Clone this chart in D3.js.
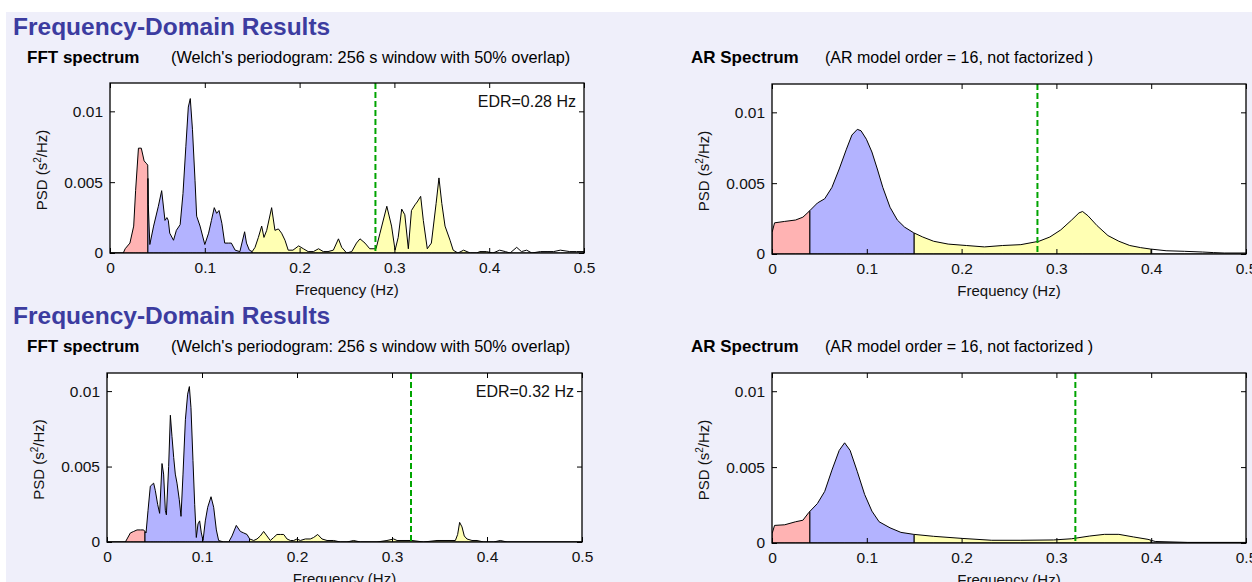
<!DOCTYPE html>
<html>
<head>
<meta charset="utf-8">
<script src="https://cdn.jsdelivr.net/npm/d3@7"></script>
<style>
  html, body { margin: 0; padding: 0; background: #fff; }
  svg { display: block; font-family: "Liberation Sans", Arial, sans-serif; }
</style>
</head>
<body>
<div id="chart"></div>
<script>
// band limits (Hz) and colours: VLF, LF, HF, rest
var bandEdges = [0, 0.04, 0.15, 0.4, 0.5];
var bandColors = ["#ffb3b3", "#b3b3ff", "#ffffb3", "#ffffff"];
var xTicks = [0, 0.1, 0.2, 0.3, 0.4, 0.5];
var yTicks = [0, 0.005, 0.01];
var edrValues = [0.28, 0.32];

// first analysis - FFT (Welch)
var fft1Freq = [0, 0.014, 0.016, 0.021, 0.025, 0.027, 0.030, 0.033, 0.036, 0.0387, 0.0398, 0.0404, 0.042, 0.046, 0.051, 0.0545,
    0.058, 0.060, 0.0615, 0.063, 0.067, 0.070, 0.074, 0.077, 0.080, 0.0826, 0.0847, 0.087, 0.0897, 0.0914, 0.095, 0.100,
    0.104, 0.107, 0.110, 0.1125, 0.115, 0.118, 0.121, 0.125, 0.128, 0.132, 0.137, 0.142, 0.144, 0.147, 0.150, 0.153,
    0.1565, 0.160, 0.1624, 0.1653, 0.1705, 0.174, 0.1776, 0.181, 0.1846, 0.188, 0.193, 0.199, 0.204, 0.209, 0.2145,
    0.220, 0.225, 0.230, 0.2356, 0.241, 0.2444, 0.2496, 0.255, 0.260, 0.2637, 0.269, 0.274, 0.2806, 0.2848, 0.292,
    0.297, 0.3007, 0.304, 0.3077, 0.311, 0.3147, 0.318, 0.3217, 0.324, 0.3277, 0.3305, 0.3347, 0.339, 0.344, 0.347,
    0.350, 0.3534, 0.3587, 0.362, 0.367, 0.373, 0.380, 0.387, 0.390, 0.397, 0.404, 0.411, 0.417, 0.422, 0.429, 0.434,
    0.4395, 0.445, 0.454, 0.461, 0.468, 0.475, 0.485, 0.492, 0.5];
var fft1Psd = [0, 0, 0.0003, 0.0007, 0.0019, 0.0044, 0.0074, 0.0074, 0.0065, 0.0063, 0.0062, 0.0034, 0.0006, 0.0019, 0.0033, 0.0044,
    0.0023, 0.0025, 0.0023, 0.0014, 0.0009, 0.0016, 0.0020, 0.0042, 0.0075, 0.0103, 0.0109, 0.0087, 0.0051, 0.0026, 0.0019, 0.0006,
    0.0014, 0.0023, 0.0032, 0.0028, 0.0030, 0.0021, 0.0007, 0.0007, 0.0007, 0.0002, 0.0001, 0.0015, 0.0007, 0.0002, 0.0001, 0.0004,
    0.0011, 0.0019, 0.0011, 0.0016, 0.0032, 0.0016, 0.0017, 0.0014, 0.0009, 0.0002, 0.0002, 0.0005, 0.0003, 0.0001, 0.0001,
    0.0003, 0.0001, 0.0001, 0.0002, 0.0010, 0.0004, 0.0000, 0.0001, 0.0007, 0.0010, 0.0007, 0.0003, 0.0003, 0.0014, 0.0033,
    0.0019, 0.0002, 0.0011, 0.0031, 0.0027, 0.0003, 0.0030, 0.0034, 0.0036, 0.0040, 0.0023, 0.0003, 0.0007, 0.0035, 0.0053,
    0.0035, 0.0019, 0.0009, 0.0002, 0.0000, 0.0002, 0.0000, 0.0000, 0.0001, 0.0001, 0.0000, 0.0002, 0.0001, 0.0000, 0.0004, 0.0001,
    0.0002, 0.0000, 0.0001, 0.0001, 0.0001, 0.0002, 0.0001, 0.0001, 0.0001];

// first analysis - AR model
var ar1Freq = [0, 0.0027, 0.0134, 0.0249, 0.0326, 0.039, 0.0479, 0.0556, 0.0632, 0.0709, 0.0785, 0.0843, 0.090, 0.0939, 0.0996,
    0.1054, 0.1111, 0.1169, 0.1245, 0.1322, 0.1398, 0.1494, 0.159, 0.1705, 0.1858, 0.205, 0.2241, 0.2433, 0.2625, 0.2816,
    0.2931, 0.3046, 0.3161, 0.3238, 0.3276, 0.3333, 0.3429, 0.3544, 0.3659, 0.3774, 0.3889, 0.3992, 0.4157, 0.4349, 0.454,
    0.4655, 0.477, 0.5];
var ar1Psd = [0.0015, 0.0022, 0.0023, 0.0024, 0.0026, 0.0030, 0.0036, 0.0039, 0.0047, 0.0060, 0.0074, 0.0084, 0.0088, 0.0087, 0.0081,
    0.0072, 0.0060, 0.0047, 0.0033, 0.0024, 0.0019, 0.0015, 0.0012, 0.0009, 0.0007, 0.0006, 0.0005, 0.0006, 0.00066, 0.0009,
    0.0012, 0.0017, 0.0024, 0.0029, 0.0030, 0.0027, 0.0020, 0.0013, 0.0009, 0.0006, 0.00045, 0.00035, 0.00023, 0.00019, 0.00014,
    0.0001, 0.00007, 0.00007];

// second analysis - FFT (Welch)
var fft2Freq = [0, 0.0193, 0.0211, 0.0246, 0.0281, 0.0316, 0.0351, 0.0386, 0.0411, 0.0432, 0.0456, 0.0491, 0.0509, 0.0533, 0.0554,
    0.0579, 0.0596, 0.0614, 0.0625, 0.0649, 0.0667, 0.0684, 0.0702, 0.0719, 0.0737, 0.0761, 0.0779, 0.080, 0.0825, 0.0849,
    0.0867, 0.0884, 0.0905, 0.0923, 0.094, 0.0958, 0.0975, 0.0993, 0.1011, 0.1035, 0.106, 0.1095, 0.1123, 0.1151, 0.1175,
    0.1228, 0.1281, 0.1316, 0.1361, 0.1404, 0.1439, 0.1474, 0.1502, 0.1544, 0.1579, 0.1614, 0.1649, 0.1684, 0.1719, 0.1754,
    0.1789, 0.1825, 0.186, 0.1895, 0.193, 0.1965, 0.200, 0.2035, 0.2088, 0.214, 0.2175, 0.2218, 0.2263, 0.2316, 0.2386,
    0.2456, 0.2526, 0.2596, 0.2667, 0.2737, 0.2842, 0.2947, 0.3018, 0.3053, 0.3211, 0.3333, 0.3474, 0.3579, 0.3667, 0.3691,
    0.3712, 0.3737, 0.3761, 0.3789, 0.3842, 0.3895, 0.3965, 0.407, 0.414, 0.4211, 0.5];
var fft2Psd = [0, 0, 0.0002, 0.0006, 0.0007, 0.0008, 0.0008, 0.0008, 0.0006, 0.0021, 0.0037, 0.0039, 0.0034, 0.0025, 0.0019,
    0.0052, 0.0045, 0.0021, 0.0018, 0.0050, 0.0084, 0.0070, 0.0056, 0.0045, 0.0039, 0.0028, 0.0017, 0.0045, 0.0081, 0.0098,
    0.0103, 0.0089, 0.0054, 0.0025, 0.0003, 0.0012, 0.0014, 0.0006, 0.0001, 0.0014, 0.0023, 0.0030, 0.0023, 0.0008, 0.0001,
    0.0000, 0.0000, 0.0004, 0.0011, 0.0007, 0.0006, 0.0005, 0.0002, 0.0001, 0.0002, 0.0004, 0.0007, 0.0004, 0.0001, 0.0003,
    0.0005, 0.0005, 0.0005, 0.0002, 0.0001, 0.0001, 0.0002, 0.0001, 0.0002, 0.0002, 0.0003, 0.0005, 0.0002, 0.0001, 0.0001,
    0.0000, 0.0000, 0.0001, 0.0000, 0.0000, 0.0000, 0.0001, 0.0002, 0.0001, 0.0001, 0.0000, 0.0001, 0.0001, 0.0001, 0.0005,
    0.0013, 0.0010, 0.0004, 0.0002, 0.0001, 0.0001, 0.0000, 0.0000, 0.0001, 0.0000, 0.0000];

// second analysis - AR model
var ar2Freq = [0, 0.0027, 0.0134, 0.0249, 0.0326, 0.0387, 0.0479, 0.0556, 0.0632, 0.0709, 0.0766, 0.0824, 0.090, 0.0977, 0.1054,
    0.113, 0.1245, 0.136, 0.1494, 0.1705, 0.2011, 0.2318, 0.2625, 0.2969, 0.3161, 0.3352, 0.3506, 0.3659, 0.3812, 0.3966,
    0.4042, 0.4387, 0.5];
var ar2Psd = [0.0006, 0.00116, 0.0012, 0.0014, 0.0015, 0.0020, 0.0026, 0.0034, 0.0048, 0.0061, 0.0066, 0.0061, 0.0047, 0.0032, 0.0021,
    0.0014, 0.0010, 0.0007, 0.00057, 0.00044, 0.0003, 0.00018, 0.00018, 0.0002, 0.00028, 0.00046, 0.00057, 0.00057, 0.0004, 0.00024,
    0.0001, 0.00004, 0.00004];

var width = 1252, height = 582;
var sectionOffset = 289;

var svg = d3.select("#chart").append("svg").attr("width", width).attr("height", height);

// page background
svg.append("rect").attr("x", 6).attr("y", 12).attr("width", width - 6).attr("height", height - 12).attr("fill", "#efeffa");

// headers of both sections
[0, 1].forEach(function (s) {
    var dy = s * sectionOffset;
    svg.append("text").attr("x", 13).attr("y", 35 + dy).attr("font-size", 24.5).attr("font-weight", "bold")
        .attr("fill", "#3c3ca0").text("Frequency-Domain Results");
    svg.append("text").attr("x", 27).attr("y", 63 + dy).attr("font-size", 17).attr("font-weight", "bold").text("FFT spectrum");
    svg.append("text").attr("x", 171).attr("y", 63 + dy).attr("font-size", 16.3).text("(Welch's periodogram: 256 s window with 50% overlap)");
    svg.append("text").attr("x", 691).attr("y", 63 + dy).attr("font-size", 17).attr("font-weight", "bold").text("AR Spectrum");
    svg.append("text").attr("x", 825).attr("y", 63 + dy).attr("font-size", 16).text("(AR model order = 16, not factorized )");
});

var panels = [
    { freq: fft1Freq, psd: fft1Psd, left: 110, right: 584, top: 83, bottom: 253, yMax: 0.012, edr: edrValues[0], label: true },
    { freq: ar1Freq, psd: ar1Psd, left: 772, right: 1246, top: 84, bottom: 254, yMax: 0.012, edr: edrValues[0], label: false },
    { freq: fft2Freq, psd: fft2Psd, left: 107, right: 582, top: 373, bottom: 542, yMax: 0.0112, edr: edrValues[1], label: true },
    { freq: ar2Freq, psd: ar2Psd, left: 772, right: 1246, top: 373, bottom: 543, yMax: 0.0112, edr: edrValues[1], label: false }
];

panels.forEach(function (p, i) {
    drawPanel(p, i);
});

function valueAt(freq, psd, f) {
    var j = d3.bisectLeft(freq, f);
    if (j <= 0) return psd[0];
    if (j >= freq.length) return psd[psd.length - 1];
    var t = (f - freq[j - 1]) / (freq[j] - freq[j - 1]);
    return psd[j - 1] + t * (psd[j] - psd[j - 1]);
}

function drawPanel(p, idx) {
    var x = d3.scaleLinear().domain([0, 0.5]).range([p.left, p.right]);
    var y = d3.scaleLinear().domain([0, p.yMax]).range([p.bottom, p.top]);
    var g = svg.append("g");

    g.append("clipPath").attr("id", "clip" + idx).append("rect")
        .attr("x", p.left).attr("y", p.top).attr("width", p.right - p.left).attr("height", p.bottom - p.top);
    g.append("rect").attr("x", p.left).attr("y", p.top).attr("width", p.right - p.left).attr("height", p.bottom - p.top)
        .attr("fill", "#fff");

    var points = p.freq.map(function (f, k) { return [f, p.psd[k]]; });

    var area = d3.area()
        .x(function (d) { return x(d[0]); })
        .y0(y(0))
        .y1(function (d) { return y(d[1]); });

    // one patch per band, each outlined in black
    var plot = g.append("g").attr("clip-path", "url(#clip" + idx + ")");
    for (var b = 0; b < bandEdges.length - 1; b++) {
        var a = bandEdges[b], e = bandEdges[b + 1];
        var seg = [[a, valueAt(p.freq, p.psd, a)]];
        points.forEach(function (d) { if (d[0] > a && d[0] < e) seg.push(d); });
        seg.push([e, valueAt(p.freq, p.psd, e)]);
        plot.append("path").attr("d", area(seg))
            .attr("fill", bandColors[b]).attr("stroke", "#000").attr("stroke-width", 1).attr("stroke-linejoin", "round");
    }

    // EDR line
    plot.append("line").attr("x1", x(p.edr)).attr("x2", x(p.edr)).attr("y1", p.top).attr("y2", p.bottom)
        .attr("stroke", "#00a400").attr("stroke-width", 2).attr("stroke-dasharray", "6,3");

    // axes, ticks inside the box
    var fmtX = function (d) { return d === 0 ? "0" : d3.format(".1f")(d); };
    var fmtY = function (d) { return d === 0 ? "0" : String(d); };
    var axB = g.append("g").attr("transform", "translate(0," + p.bottom + ")")
        .call(d3.axisBottom(x).tickValues(xTicks).tickSizeInner(-5).tickSizeOuter(0).tickPadding(9).tickFormat(fmtX));
    var axT = g.append("g").attr("transform", "translate(0," + p.top + ")")
        .call(d3.axisTop(x).tickValues(xTicks).tickSizeInner(-5).tickSizeOuter(0).tickFormat(""));
    var axL = g.append("g").attr("transform", "translate(" + p.left + ",0)")
        .call(d3.axisLeft(y).tickValues(yTicks).tickSizeInner(-5).tickSizeOuter(0).tickPadding(7).tickFormat(fmtY));
    var axR = g.append("g").attr("transform", "translate(" + p.right + ",0)")
        .call(d3.axisRight(y).tickValues(yTicks).tickSizeInner(-5).tickSizeOuter(0).tickFormat(""));
    [axB, axT, axL, axR].forEach(function (ax) {
        ax.select(".domain").remove();
        ax.selectAll("line").attr("stroke", "#000");
        ax.selectAll("text").attr("font-size", 15.5).attr("fill", "#111")
            .attr("font-family", "'Liberation Sans', Arial, sans-serif");
    });

    g.append("rect").attr("x", p.left).attr("y", p.top).attr("width", p.right - p.left).attr("height", p.bottom - p.top)
        .attr("fill", "none").attr("stroke", "#000").attr("stroke-width", 1.3);

    // axis titles
    g.append("text").attr("x", (p.left + p.right) / 2).attr("y", p.bottom + 42).attr("text-anchor", "middle")
        .attr("font-size", 15).attr("fill", "#111").text("Frequency (Hz)");
    var yl = g.append("text").attr("transform", "translate(" + (p.left - 63) + "," + ((p.top + p.bottom) / 2 + 2) + ") rotate(-90)")
        .attr("text-anchor", "middle").attr("font-size", 15).attr("fill", "#111");
    yl.append("tspan").text("PSD (s");
    yl.append("tspan").attr("font-size", 10).attr("dy", -6).text("2");
    yl.append("tspan").attr("dy", 6).text("/Hz)");

    if (p.label) {
        g.append("text").attr("x", p.right - 8).attr("y", p.top + 24).attr("text-anchor", "end")
            .attr("font-size", 16).attr("fill", "#111").text("EDR=" + p.edr.toFixed(2) + " Hz");
    }
}
</script>
</body>
</html>
